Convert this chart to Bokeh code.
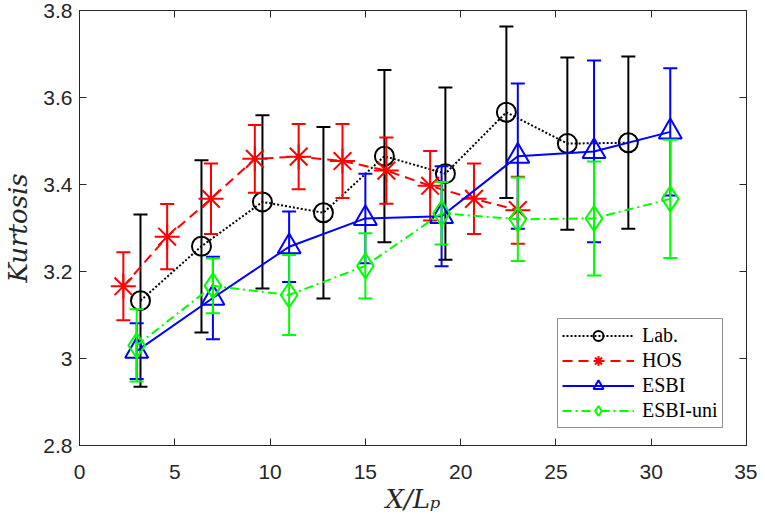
import numpy as np
from bokeh.plotting import figure
from bokeh.models import Range1d, LinearAxis, FixedTicker, Legend, LegendItem
from bokeh.embed import file_html
from bokeh.resources import INLINE

# ---- data ----
x_ticks = [0, 5, 10, 15, 20, 25, 30, 35]
y_ticks = [2.8, 3.0, 3.2, 3.4, 3.6, 3.8]
y_tick_labels = ["2.8", "3", "3.2", "3.4", "3.6", "3.8"]

lab_x = [3.2, 6.4, 9.6, 12.8, 16.0, 19.2, 22.4, 25.6, 28.8]
lab_y = [3.133, 3.258, 3.360, 3.335, 3.465, 3.425, 3.566, 3.494, 3.496]
lab_err = [0.198, 0.198, 0.199, 0.197, 0.198, 0.198, 0.197, 0.198, 0.198]

hos_x = [2.3, 4.6, 6.9, 9.2, 11.5, 13.8, 16.1, 18.4, 20.7, 23.0]
hos_y = [3.166, 3.280, 3.367, 3.459, 3.464, 3.454, 3.432, 3.397, 3.367, 3.341]
hos_err = [0.078, 0.075, 0.081, 0.078, 0.075, 0.085, 0.076, 0.080, 0.081, 0.077]

esbi_x = [3, 7, 11, 15, 19, 23, 27, 31]
esbi_y = [3.017, 3.139, 3.257, 3.322, 3.327, 3.465, 3.476, 3.521]
esbi_err = [0.064, 0.095, 0.081, 0.103, 0.115, 0.167, 0.209, 0.146]

uni_x = [3, 7, 11, 15, 19, 23, 27, 31]
uni_y = [3.030, 3.167, 3.146, 3.213, 3.334, 3.320, 3.322, 3.367]
uni_err = [0.083, 0.063, 0.092, 0.075, 0.072, 0.096, 0.131, 0.136]

series = [
    ("Lab.", lab_x, lab_y, lab_err, "#000000", "2 2", "circle", 19),
    ("HOS", hos_x, hos_y, hos_err, "#FF0000", "10 6", "asterisk", 25),
    ("ESBI", esbi_x, esbi_y, esbi_err, "#0000FF", "solid", "triangle", 23),
    ("ESBI-uni", uni_x, uni_y, uni_err, "#00FF00", "9 4 2 4", "diamond", 25),
]

AX = "#262626"

p = figure(width=757, height=516, output_backend="svg", toolbar_location=None,
           x_range=Range1d(0, 35), y_range=Range1d(2.8, 3.8),
           min_border_left=77, min_border_right=11, min_border_top=10, min_border_bottom=64,
           x_axis_label="X/Lₚ", y_axis_label="Kurtosis")
p.xgrid.visible = False
p.ygrid.visible = False
p.outline_line_color = AX
p.outline_line_width = 1
p.background_fill_color = "white"
p.border_fill_color = "white"

p.xaxis.ticker = FixedTicker(ticks=x_ticks)
p.yaxis.ticker = FixedTicker(ticks=y_ticks)
p.yaxis.major_label_overrides = {t: s for t, s in zip(y_ticks, y_tick_labels)}

for ax in (p.xaxis[0], p.yaxis[0]):
    ax.axis_line_color = AX
    ax.major_tick_line_color = AX
    ax.major_tick_in = 7
    ax.major_tick_out = 0
    ax.minor_tick_line_color = None
    ax.major_label_text_font = "Liberation Sans"
    ax.major_label_text_font_size = "21px"
    ax.major_label_text_color = AX
    ax.axis_label_text_font = "DejaVu Serif"
    ax.axis_label_text_font_style = "italic"
    ax.axis_label_text_font_size = "26px"
    ax.axis_label_text_color = AX
p.xaxis.major_label_standoff = 19
p.xaxis.axis_label_standoff = 2
p.yaxis.major_label_standoff = 7
p.yaxis.axis_label_standoff = 7

right = LinearAxis(ticker=FixedTicker(ticks=y_ticks), major_tick_in=7, major_tick_out=0,
                   minor_tick_line_color=None, major_label_text_font_size="1px",
                   major_label_text_color=None,
                   major_label_standoff=0, axis_line_color=AX, major_tick_line_color=AX)
top = LinearAxis(ticker=FixedTicker(ticks=x_ticks), major_tick_in=7, major_tick_out=0,
                 minor_tick_line_color=None, major_label_text_font_size="1px",
                 major_label_text_color=None,
                 major_label_standoff=0, axis_line_color=AX, major_tick_line_color=AX)
p.add_layout(right, "right")
p.add_layout(top, "above")

items = []
for name, xs, ys, es, col, dash, mk, sz in series:
    xs = np.array(xs, dtype=float)
    ys = np.array(ys, dtype=float)
    es = np.array(es, dtype=float)
    lo = ys - es
    hi = ys + es
    p.segment(x0=xs, y0=lo, x1=xs, y1=hi, line_color=col, line_width=2)
    p.scatter(x=xs, y=lo, marker="dash", size=14, line_color=col, line_width=2)
    p.scatter(x=xs, y=hi, marker="dash", size=14, line_color=col, line_width=2)
    ln = p.line(xs, ys, line_color=col, line_width=2, line_dash=dash)
    sc = p.scatter(xs, ys, marker=mk, size=sz, line_color=col, line_width=2,
                   fill_color=None)
    items.append(LegendItem(label=name, renderers=[ln, sc]))

legend = Legend(items=items, location=(478, 17),
                padding=4, spacing=0, glyph_width=72, glyph_height=25,
                label_height=25, label_standoff=8,
                label_text_font="Liberation Serif", label_text_font_size="20px",
                label_text_color="#000000",
                border_line_color=AX, border_line_width=1,
                background_fill_color="white", background_fill_alpha=1.0)
p.add_layout(legend, "center")

open("out.html", "w").write(file_html(p, INLINE))
